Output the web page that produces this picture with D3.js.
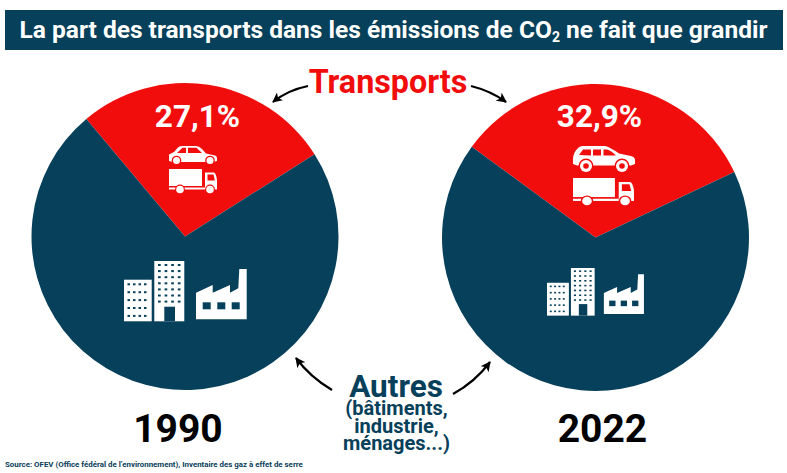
<!DOCTYPE html>
<html><head><meta charset="utf-8">
<script src="https://cdn.jsdelivr.net/npm/d3@7/dist/d3.min.js"></script>
<style>html,body{margin:0;padding:0;background:#fff}svg{display:block}text{font-family:Roboto,sans-serif}</style>
</head><body><svg id="c" width="787" height="473"></svg>
<script>
const years = ["1990", "2022"];
const categories = ["Transports", "Autres"];
const transportShare = [27.1, 32.9];
const otherShare = [72.9, 67.1];
const shareLabels = ["27,1%", "32,9%"];
const startAngleDeg = [-40, -53.7];
const otherLines = ["(bâtiments,", "industrie,", "ménages...)"];
const titleParts = ["La part des transports dans les émissions de CO", "2", " ne fait que grandir"];
const sourceText = "Source: OFEV (Office fédéral de l’environnement), Inventaire des gaz à effet de serre";

const NAVY = "#07405a", RED = "#f20d0d";
const svg = d3.select("#c");
const color = d3.scaleOrdinal(categories, [RED, NAVY]);

// Title banner
svg.append("rect").attr("x",5).attr("y",10).attr("width",778).attr("height",40).attr("fill",NAVY);
const tt = svg.append("text").attr("x",393.500).attr("y",38).attr("text-anchor","middle")
  .attr("fill","#fff").attr("font-size",24.530).attr("font-weight",700);
tt.append("tspan").text(titleParts[0]);
tt.append("tspan").attr("font-size",14).attr("dy",4).text(titleParts[1]);
tt.append("tspan").attr("dy",-4).text(titleParts[2]);

// Pies
const centers = [[185,236.5],[595.5,237.5]];
const R = 153.5;
const arc = d3.arc().innerRadius(0).outerRadius(R);
years.forEach((y,i)=>{
  const a0 = startAngleDeg[i]*Math.PI/180;
  const pie = d3.pie().sort(null).value(d=>d.v).startAngle(a0).endAngle(a0+2*Math.PI);
  const data = [{k:categories[0],v:transportShare[i]},{k:categories[1],v:otherShare[i]}];
  svg.append("g").attr("transform",`translate(${centers[i]})`)
    .selectAll("path").data(pie(data)).join("path")
    .attr("d",arc).attr("fill",d=>color(d.data.k));
});

// Share labels and years
const labelX=[197.5,599.5], yearX=[178,602.5];
shareLabels.forEach((s,i)=>{
  svg.append("text").attr("x",labelX[i]).attr("y",127).attr("text-anchor","middle")
    .attr("fill","#fff").attr("font-size",31.500).attr("font-weight",700).text(s);
  svg.append("text").attr("x",yearX[i]).attr("y",442).attr("text-anchor","middle")
    .attr("fill","#000").attr("font-size",39).attr("font-weight",700).text(years[i]);
});

// Central labels
svg.append("text").attr("x",388).attr("y",93).attr("text-anchor","middle")
  .attr("fill",RED).attr("font-size",32.300).attr("font-weight",700).text(categories[0]);
const autres = svg.append("text").attr("text-anchor","middle").attr("fill",NAVY).attr("font-weight",700);
autres.append("tspan").attr("x",396).attr("y",397).attr("font-size",31.500).text(categories[1]);
otherLines.forEach((l,i)=>{
  autres.append("tspan").attr("x",396.500).attr("y",415+i*17.500).attr("font-size",20).text(l);
});

// Source
svg.append("text").attr("x",5).attr("y",467).attr("fill",NAVY)
  .attr("font-size",7.900).attr("font-weight",700).text(sourceText);

// Arrows
svg.append("defs").append("marker").attr("id","ah").attr("viewBox","0 0 10 10").attr("refX",9).attr("refY",5)
  .attr("markerWidth",10).attr("markerHeight",10).attr("markerUnits","userSpaceOnUse").attr("orient","auto")
  .append("path").attr("d","M0,0L10,5L0,10L2.5,5Z").attr("fill","#000");
["M308,86Q288,90 273,102","M471,86Q491,91 506,102","M332,390Q310,377 296,358","M453,394Q475,382 490,362"]
 .forEach(d=>svg.append("path").attr("d",d).attr("fill","none").attr("stroke","#000").attr("stroke-width",2.2).attr("marker-end","url(#ah)"));

// Icons (white pictograms)
function icon(x,y,sx,sy){return svg.append("g").attr("transform",`translate(${x},${y}) scale(${sx},${sy===undefined?sx:sy})`);}
function sedan(g,bg){
  g.append("path").attr("fill","#fff").attr("d","M0,8.500 L5,6 L9,1.500 Q10,0 13,0 L27,0 Q30,0 33,3 L37,7.500 L46,9.500 Q48,10 48,12 L48,15 L44,16 L4,16 L0,15Z");
  g.append("path").attr("fill",bg).attr("d","M8,7 L13.500,1.800 L17,1.800 L17,7Z M19,1.800 L27.500,1.800 L33,7 L19,7Z");
  [7.500,41].forEach(cx=>{
    g.append("circle").attr("cx",cx).attr("cy",14.500).attr("r",4.800).attr("fill",bg);
    g.append("circle").attr("cx",cx).attr("cy",14.500).attr("r",3.500).attr("fill","#fff");
  });
}
function suv(g,bg){
  g.append("path").attr("fill","#fff").attr("d","M0,13 Q0,7 5,2 Q7,0 10,0 L32,0 Q37,1 46,7.500 L58,10 Q62,11 62,14 L62,18 L58,19.500 L4,19.500 L0,18Z");
  g.append("path").attr("fill",bg).attr("d","M6,9 L10,3.500 L18,3.500 L18,9.500Z M20,3.500 L28,3.500 L28,9.500 L20,9.500Z M30.500,3.500 L34,3.500 Q38,4.500 43,9.500 L30.500,9.500Z");
  [13,49].forEach(cx=>{
    g.append("circle").attr("cx",cx).attr("cy",20).attr("r",7.500).attr("fill",bg);
    g.append("circle").attr("cx",cx).attr("cy",20).attr("r",6).attr("fill","#fff");
    g.append("circle").attr("cx",cx).attr("cy",20).attr("r",2.800).attr("fill",bg);
  });
}
function truck(g,bg){
  g.append("rect").attr("fill","#fff").attr("width",33).attr("height",17);
  g.append("rect").attr("fill","#fff").attr("y",18.500).attr("width",36).attr("height",2);
  g.append("path").attr("fill","#fff").attr("d","M36,3.500 L45,3.500 Q47,4 48,11 L48,20.500 L36,20.500Z");
  g.append("path").attr("fill",bg).attr("d","M38.500,5.500 L44.500,5.500 L45.800,11.500 L38.500,11.500Z");
  [11,41].forEach(cx=>{
    g.append("circle").attr("cx",cx).attr("cy",20.500).attr("r",4.900).attr("fill",bg);
    g.append("circle").attr("cx",cx).attr("cy",20.500).attr("r",3.800).attr("fill","#fff");
  });
}
function city(g,bg){
  g.append("rect").attr("fill","#fff").attr("y",18.700).attr("width",27.700).attr("height",41.600);
  g.append("rect").attr("fill","#fff").attr("x",30.300).attr("width",30).attr("height",60.300);
  g.append("rect").attr("fill",bg).attr("x",40.300).attr("y",45.700).attr("width",10.700).attr("height",14.600);
  d3.range(5).forEach(r=>d3.range(4).forEach(c=>
    g.append("rect").attr("fill",bg).attr("x",3.500+c*5.500).attr("y",22.300+r*7.900).attr("width",2.500).attr("height",2)));
  d3.range(7).forEach(r=>d3.range(4).forEach(c=>
    g.append("rect").attr("fill",bg).attr("x",34+c*6.600).attr("y",3+r*6.100).attr("width",2.700).attr("height",2)));
  g.append("path").attr("fill","#fff").attr("d","M72,31.700 L88.700,24 L88.700,31.700 L106,24 L106,31.700 L114.300,27.300 L115.300,8 L122.700,8 L122.700,58.300 L72,58.300Z");
  [78.700,93.300,107.700].forEach(x=>g.append("rect").attr("fill",bg).attr("x",x).attr("y",41.300).attr("width",8).attr("height",7));
}
sedan(icon(169,146,1),RED); truck(icon(169,169,1),RED);
suv(icon(573,146,1),RED); truck(icon(573,178,1.27,1.12),RED);
city(icon(124,261,1),NAVY); city(icon(547,268,0.79),NAVY);
</script></body></html>
